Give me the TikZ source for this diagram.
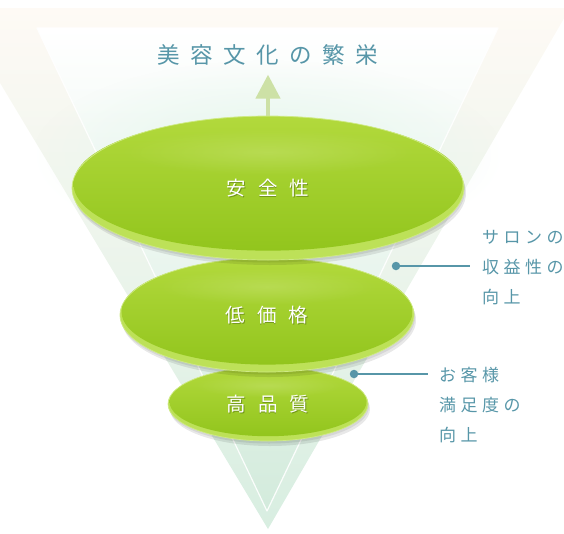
\documentclass[tikz,border=0pt]{standalone}
\usepackage{fontspec}
\newfontfamily\jp{Noto Sans CJK JP}
\usetikzlibrary{shapes.geometric,fadings,calc,arrows.meta}
\definecolor{teal1}{HTML}{5796A8}
\definecolor{mintA}{HTML}{D3EBDC}
\definecolor{mintA2}{HTML}{D8EEE1}
\definecolor{mintB}{HTML}{E4F6EC}
\definecolor{mintC}{HTML}{EEF8F2}
\definecolor{mintD}{HTML}{F2FAF6}
\definecolor{peachW}{HTML}{FEFAF5}
\definecolor{gTop}{HTML}{B2D93C}
\definecolor{gMid}{HTML}{9BCB23}
\definecolor{gBot}{HTML}{92C51D}
\definecolor{gRim}{HTML}{BDE158}
\definecolor{gEdge}{HTML}{CFEA86}
\definecolor{arrowG}{HTML}{CDE1A6}
\tikzfading[name=softglow, inner color=transparent!0, outer color=transparent!100]
\newcommand\gapT{\hspace{10.5pt}}
\newcommand\gapD{\hspace{12pt}}
\newcommand\gapL{\hspace{4.5pt}}
\tikzset{
  disctext/.style={inner sep=0pt, text=white, font=\jp\fontsize{19.5}{20}\selectfont},
  discglow/.style={inner sep=0pt, text=gBot!50!black, opacity=0.5, font=\jp\fontsize{19.5}{20}\selectfont},
  discshape/.style={ellipse, inner sep=0pt, draw=gEdge, line width=0.7pt},
  lab/.style={text=teal1, align=left, anchor=west, inner ysep=0pt, font=\jp\fontsize{17}{30}\selectfont},
  conn/.style={draw=teal1, line width=1.3pt},
  dotc/.style={circle, fill=teal1, inner sep=0pt, minimum size=8.5pt},
  arrowc/.style={draw=arrowG, line width=4.5pt, -{Triangle[width=24pt,length=24pt]}},
}
% #1 name, #2 cx, #3 cy, #4 rx, #5 ry, #6 text
\newcommand\mydisc[6]{%
  \fill[black, opacity=0.09] ({#2+2},{#3+5}) ellipse [x radius=#4, y radius=#5];
  \fill[black, opacity=0.08] ({#2+1},{#3+2.5}) ellipse [x radius=#4, y radius=#5];
  \fill[gRim] (#2,#3) ellipse [x radius=#4, y radius=#5];
  \shade[top color=gTop, middle color=gMid, bottom color=gBot] (#2,{#3-0.06*#5}) ellipse [x radius={#4-1.5}, y radius={0.93*#5}];
  \fill[gTop!70!white, opacity=0.45, path fading=softglow] (#2,{#3-0.5*#5}) ellipse [x radius={0.75*#4}, y radius={0.32*#5}];
  \node[discshape, minimum width={2*#4pt}, minimum height={2*#5pt}] (#1) at (#2,#3) {};
  \node[discglow] (#1g) at ({#2+0.6},{#3+0.8}) {#6};
  \node[disctext] (#1t) at (#1) {#6};
}
\begin{document}
\begin{tikzpicture}[x=1pt,y=-1pt]
\useasboundingbox (0,0) rectangle (564,533);
\clip (0,0) rectangle (564,533);
% outer glow band
\shade[top color=peachW, middle color=mintD, bottom color=mintA2] (-45,8) -- (570,8) -- (268,529) -- cycle;
% inner triangle
\shade[top color=white, middle color=mintC, bottom color=mintA] (37,28) -- (498,28) -- (267,511) -- cycle;
\fill[mintB, path fading=softglow] (268,155) ellipse [x radius=235, y radius=95];
\draw[white, line width=1.2pt, opacity=0.9, line join=round] (37,28) -- (498,28) -- (267,511) -- cycle;
% title and arrow
\node[text=teal1, inner sep=0pt, font=\jp\fontsize{22.5}{23}\selectfont] (title) at (268,55)
  {美\gapT 容\gapT 文\gapT 化\gapT の\gapT 繁\gapT 栄};
\coordinate (ab) at (268,122);
\draw[arrowc, shorten >=9pt] (ab) -- (title.south);
% discs, bottom first
\mydisc{quality}{268}{404}{100}{37}{高\gapD 品\gapD 質}
\mydisc{price}{267}{315}{147}{57}{低\gapD 価\gapD 格}
\mydisc{safety}{268}{188}{196}{72}{安\gapD 全\gapD 性}
% labels and connectors
\node[dotc] (d1) at (396,266) {};
\node[lab, inner xsep=12pt] (l1) at (470,268) {サ\gapL ロ\gapL ン\gapL の\\収\gapL 益\gapL 性\gapL の\\向\gapL 上};
\draw[conn] (d1.center) -- (d1 -| l1.west);
\node[dotc] (d2) at (354,374) {};
\node[lab, inner xsep=11pt] (l2) at (428,405) {お\gapL 客\gapL 様\\満\gapL 足\gapL 度\gapL の\\向\gapL 上};
\draw[conn] (d2.center) -- (d2 -| l2.west);
\end{tikzpicture}
\end{document}
